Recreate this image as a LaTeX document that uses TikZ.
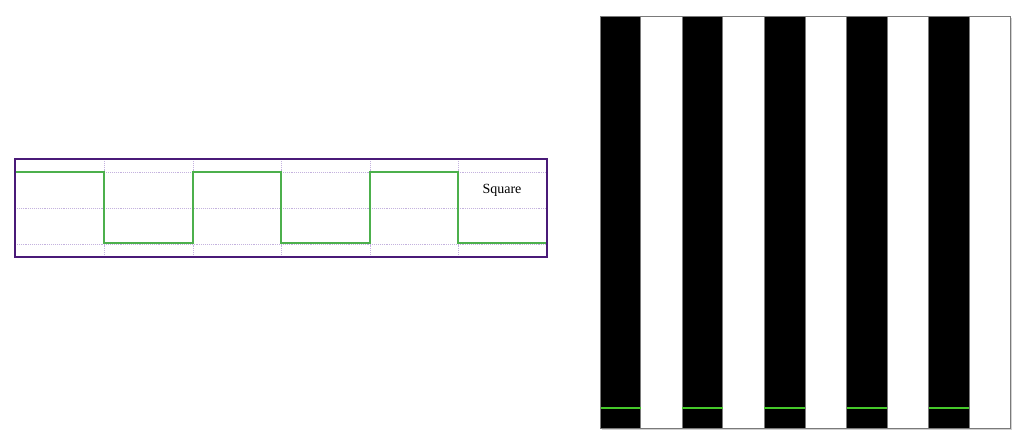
\documentclass[tikz,border=0pt]{standalone}
\usepackage{fontspec}
\setmainfont{Liberation Serif}
\definecolor{frame}{HTML}{4A1A78}
\definecolor{gridc}{HTML}{C4B2DE}
\definecolor{wave}{HTML}{4CB04C}
\definecolor{bright}{HTML}{45C82A}
\definecolor{edgegray}{HTML}{7A7A7A}
\tikzset{
  gridline/.style={gridc, line width=0.9pt, densely dotted},
  framebox/.style={frame, line width=1.5pt},
  waveline/.style={wave, line width=1.4pt},
  stripe/.style={fill=black, draw=edgegray, line width=0.8pt},
  marker/.style={bright, line width=1.8pt},
}
\begin{document}
\begin{tikzpicture}[x=1pt,y=-1pt]
\useasboundingbox (0,0) rectangle (1024,437);
% ---- left panel ----
\foreach \x in {104,193,281,370,458} \draw[gridline] (\x,159) -- (\x,257);
\foreach \y in {172,208,244} \draw[gridline] (15,\y) -- (547,\y);
\draw[waveline] (15,172) -- (104,172) -- (104,243) -- (193,243) -- (193,172)
  -- (281,172) -- (281,243) -- (370,243) -- (370,172) -- (458,172) -- (458,243) -- (547,243);
\draw[framebox] (15,159) rectangle (547,257);
\node[font=\fontsize{14}{16}\selectfont] (label) at (502,190) {Square};
% ---- right panel ----
\fill[black!18] (602,18) rectangle (1012,430);
\fill[white] (600,16) rectangle (1010,428);
\foreach \i in {0,...,4} {
  \pgfmathsetmacro{\xa}{600+82.2*\i}
  \draw[stripe] (\xa,16) rectangle ({\xa+40.5},428);
  \draw[marker] (\xa,408) -- ({\xa+40.5},408);
}
\draw[edgegray, line width=0.8pt] (600,16) rectangle (1010,428);
\end{tikzpicture}
\end{document}
